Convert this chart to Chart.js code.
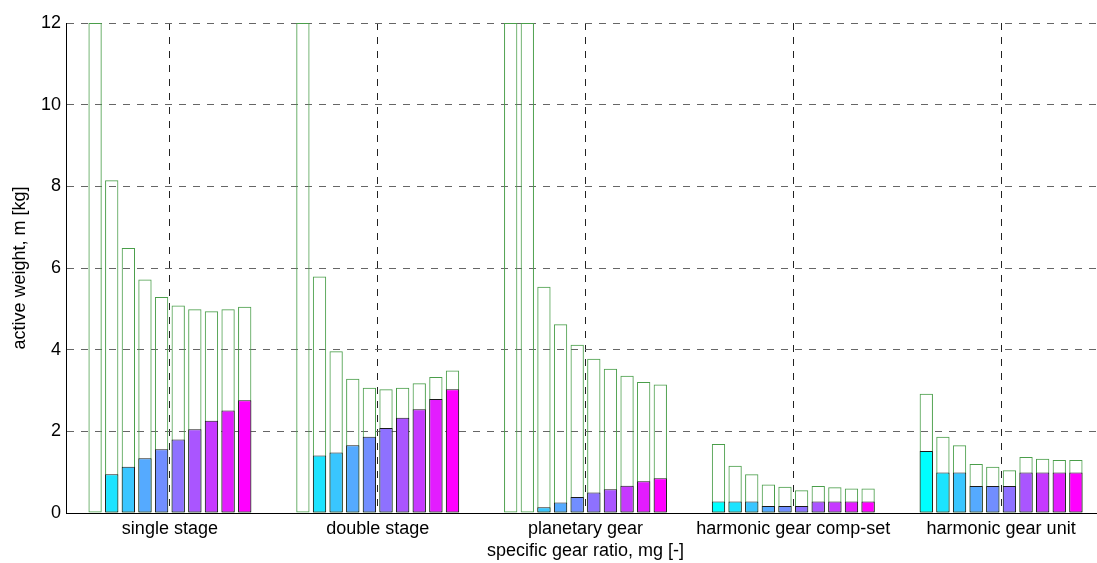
<!DOCTYPE html>
<html lang="en">
<head>
  <meta charset="UTF-8">
  <title>Active weight per gear type</title>
  <script src="https://cdn.jsdelivr.net/npm/chart.js"></script>
  <style>
    html, body { margin: 0; padding: 0; background: #fff; overflow: hidden; }
    #wrap { width: 1105px; height: 563px; position: relative; }
  </style>
</head>
<body>
  <div id="wrap"><canvas id="chart"></canvas></div>
  <script>
    // gear types (x categories)
    const categories = ['single stage', 'double stage', 'planetary gear', 'harmonic gear comp-set', 'harmonic gear unit'];

    // total weight per ratio step (bars above 12 are cut at the axis top)
    const totalSingle   = [12, 8.15, 6.49, 5.72, 5.29, 5.08, 4.99, 4.94, 4.99, 5.05];
    const totalDouble   = [12, 5.79, 3.96, 3.29, 3.07, 3.03, 3.07, 3.18, 3.33, 3.49];
    const totalPlanet   = [12, 12, 5.54, 4.62, 4.12, 3.78, 3.53, 3.36, 3.21, 3.15];
    const totalHarmComp = [1.69, 1.16, 0.95, 0.70, 0.64, 0.56, 0.66, 0.63, 0.60, 0.60];
    const totalHarmUnit = [2.92, 1.87, 1.66, 1.20, 1.13, 1.05, 1.37, 1.33, 1.30, 1.30];

    // active part of the weight
    const activeSingle   = [0, 0.95, 1.13, 1.34, 1.56, 1.80, 2.05, 2.26, 2.51, 2.76];
    const activeDouble   = [0, 1.41, 1.48, 1.66, 1.87, 2.08, 2.33, 2.54, 2.79, 3.03];
    const activePlanet   = [0, 0, 0.14, 0.26, 0.39, 0.50, 0.58, 0.67, 0.78, 0.85];
    const activeHarmComp = [0.28, 0.28, 0.28, 0.17, 0.17, 0.17, 0.28, 0.28, 0.28, 0.28];
    const activeHarmUnit = [1.52, 0.99, 0.99, 0.66, 0.66, 0.66, 0.99, 0.99, 0.99, 0.99];

    const yTicks = [0, 2, 4, 6, 8, 10, 12];

    // cool colormap, one colour per ratio step
    const stepColors = [
      'rgb(0,255,255)', 'rgb(28,227,255)', 'rgb(57,198,255)', 'rgb(85,170,255)', 'rgb(113,142,255)',
      'rgb(142,113,255)', 'rgb(170,85,255)', 'rgb(198,57,255)', 'rgb(227,28,255)', 'rgb(255,0,255)'
    ];

    const totals = [totalSingle, totalDouble, totalPlanet, totalHarmComp, totalHarmUnit];
    const actives = [activeSingle, activeDouble, activePlanet, activeHarmComp, activeHarmUnit];

    const datasets = [];
    stepColors.forEach((c, i) => {
      datasets.push({
        label: 'active ' + (i + 1),
        data: actives.map(g => g[i]),
        backgroundColor: c,
        borderColor: '#1a1a1a',
        borderWidth: 1,
        borderSkipped: false,
        stack: 's' + i,
        order: 0
      });
      datasets.push({
        label: 'total ' + (i + 1),
        data: totals.map(g => g[i]),
        backgroundColor: 'rgba(255,255,255,0)',
        borderColor: '#4a9e4a',
        borderWidth: 1,
        borderSkipped: false,
        stack: 's' + i,
        order: 1
      });
    });

    const font = { family: "'Liberation Sans', Arial, sans-serif", size: 18 };

    new Chart(document.getElementById('chart'), {
      type: 'bar',
      data: { labels: categories, datasets: datasets },
      options: {
        responsive: true,
        maintainAspectRatio: false,
        animation: false,
        layout: { padding: { top: 23, left: 5, right: 0, bottom: 0 } },
        datasets: { bar: { barPercentage: 0.8, categoryPercentage: 0.8 } },
        plugins: { legend: { display: false }, tooltip: { enabled: false } },
        scales: {
          x: {
            stacked: true,
            grid: { offset: false, color: '#222', lineWidth: 1, drawTicks: false },
            border: { display: true, color: '#000', width: 1, dash: [7, 7] },
            ticks: { color: '#000', font: font, padding: 5, maxRotation: 0, autoSkip: false },
            title: { display: true, text: 'specific gear ratio, mg [-]', color: '#000', font: font, padding: { top: 0, bottom: 1 } },
            afterFit: s => { s.height = 50; }
          },
          y: {
            stacked: false,
            min: 0,
            max: 12,
            afterBuildTicks: s => { s.ticks = yTicks.map(v => ({ value: v })); },
            grid: { color: '#666', lineWidth: 1, drawTicks: false },
            border: { display: true, color: '#000', width: 1, dash: [7, 7] },
            ticks: { color: '#000', font: font, padding: 5 },
            title: { display: true, text: 'active weight, m [kg]', color: '#000', font: font, padding: { top: 4, bottom: 0 } },
            afterFit: s => { s.width = 61; }
          }
        }
      }
    });
  </script>
</body>
</html>
